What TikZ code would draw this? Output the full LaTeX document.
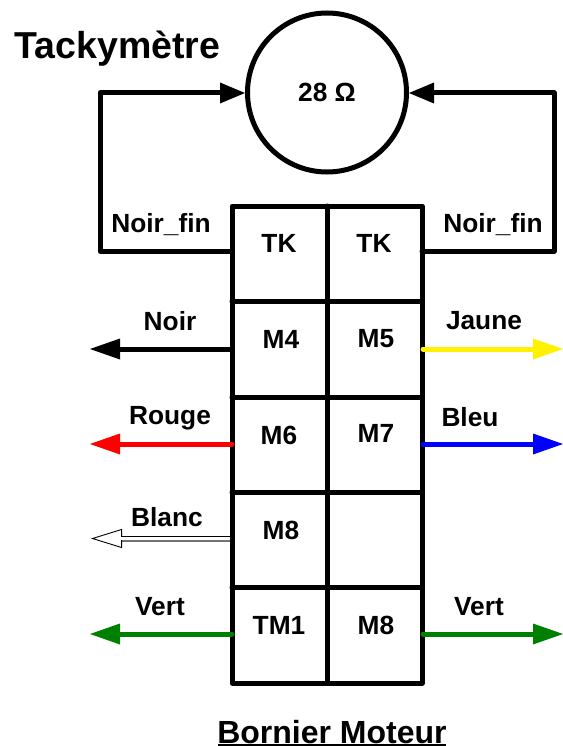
\documentclass[tikz,border=0pt]{standalone}
\usepackage{fontspec}
\setmainfont{Liberation Sans}
\usetikzlibrary{arrows.meta}
\definecolor{vert}{RGB}{0,128,0}
\tikzset{
 wire/.style={line width=5pt,line cap=round,line join=round,-{Triangle[length=30pt,width=21pt,line width=0pt,round=false]}},
 lab/.style={font=\bfseries\fontsize{26.3}{28}\selectfont,inner sep=0pt},
 cell/.style={lab,minimum width=90pt,minimum height=90pt},
 grid line/.style={line width=5pt,line join=round,line cap=round},
}
\begin{document}
\begin{tikzpicture}[x=1pt,y=-1pt]
\useasboundingbox (0,0) rectangle (562,746);
\fill[white] (0,0) rectangle (562,746);
% grid
\draw[grid line] (232,206) rectangle (422,683);
\draw[grid line] (327,206) -- (327,683);
\foreach \yy in {301,397,492,587} \draw[grid line] (232,\yy) -- (422,\yy);
% cells
\node[cell] (tk1) at (279,243) {TK};
\node[cell] (tk2) at (374,243) {TK};
\node[cell] (m4) at (281,339) {M4};
\node[cell] (m5) at (376,339) {M5};
\node[cell] (m6) at (279,435) {M6};
\node[cell] (m7) at (376,433) {M7};
\node[cell] (m8) at (281,530) {M8};
\node[cell] (tm1) at (279,625) {TM1};
\node[cell] (m8b) at (376,625) {M8};
% tacho
\node[circle,draw,line width=5pt,minimum size=159pt,inner sep=0pt,outer sep=2.5pt] (tach) at (327,92.5) {};
\node[lab] (ohm) at (327,92) {28 Ω};
\node[font=\bfseries\fontsize{37.5}{40}\selectfont,inner sep=0pt] (title) at (117.5,49) {Tackymètre};
\coordinate (lt) at (232,251);
\coordinate (rt) at (422,251);
\coordinate (lc) at (100,251);
\coordinate (rc) at (554,251);
\coordinate (lu) at (100,93);
\coordinate (ru) at (554,93);
\draw[wire,-{Triangle[length=25pt,width=21pt,line width=0pt]}] (lt) -- (lc) -- (lu) -- (lu -| tach.west);
\draw[wire,-{Triangle[length=25pt,width=21pt,line width=0pt]}] (rt) -- (rc) -- (ru) -- (ru -| tach.east);
\node[lab] (nf1) at (161,225) {Noir\_fin};
\node[lab] (nf2) at (493,225) {Noir\_fin};
% side arrows
\coordinate (an) at (90,349); \coordinate (sn) at (232,349);
\draw[wire,black] (sn) -- (an);
\node[lab] (lnoir) at (170,321) {Noir};
\coordinate (aj) at (563,349); \coordinate (sj) at (423,349);
\draw[wire,yellow] (sj) -- (aj);
\node[lab] (ljaune) at (484,321) {Jaune};
\coordinate (ar) at (90,444); \coordinate (sr) at (232,444);
\draw[wire,red] (sr) -- (ar);
\node[lab] (lrouge) at (170,418) {Rouge};
\coordinate (ab) at (563,444); \coordinate (sb) at (423,444);
\draw[wire,blue] (sb) -- (ab);
\node[lab] (lbleu) at (470,417) {Bleu};
\coordinate (aw) at (91,538.5); \coordinate (sw) at (230,538.5);
\draw[line width=6pt,black!55,-{Triangle[length=31pt,width=19pt,open,line width=.9pt,fill=white,color=black]}] (sw) -- (aw);
\draw[white,line width=3.2pt] (230,538.3) -- (121,538.3);
\draw[black,line width=.9pt] (230,536) -- (122,536);
\node[lab] (lblanc) at (167,517) {Blanc};
\coordinate (av) at (90,634); \coordinate (sv) at (232,634);
\draw[wire,vert] (sv) -- (av);
\node[lab] (lvert) at (160,607) {Vert};
\coordinate (av2) at (563,634); \coordinate (sv2) at (423,634);
\draw[wire,vert] (sv2) -- (av2);
\node[lab] (lvert2) at (479,607) {Vert};
\node[font=\bfseries\fontsize{32}{35}\selectfont,inner sep=0pt,anchor=base] (cap) at (332,743) {Bornier Moteur};
\draw[line width=2.6pt] (218,745) -- (446,745);
\end{tikzpicture}
\end{document}
